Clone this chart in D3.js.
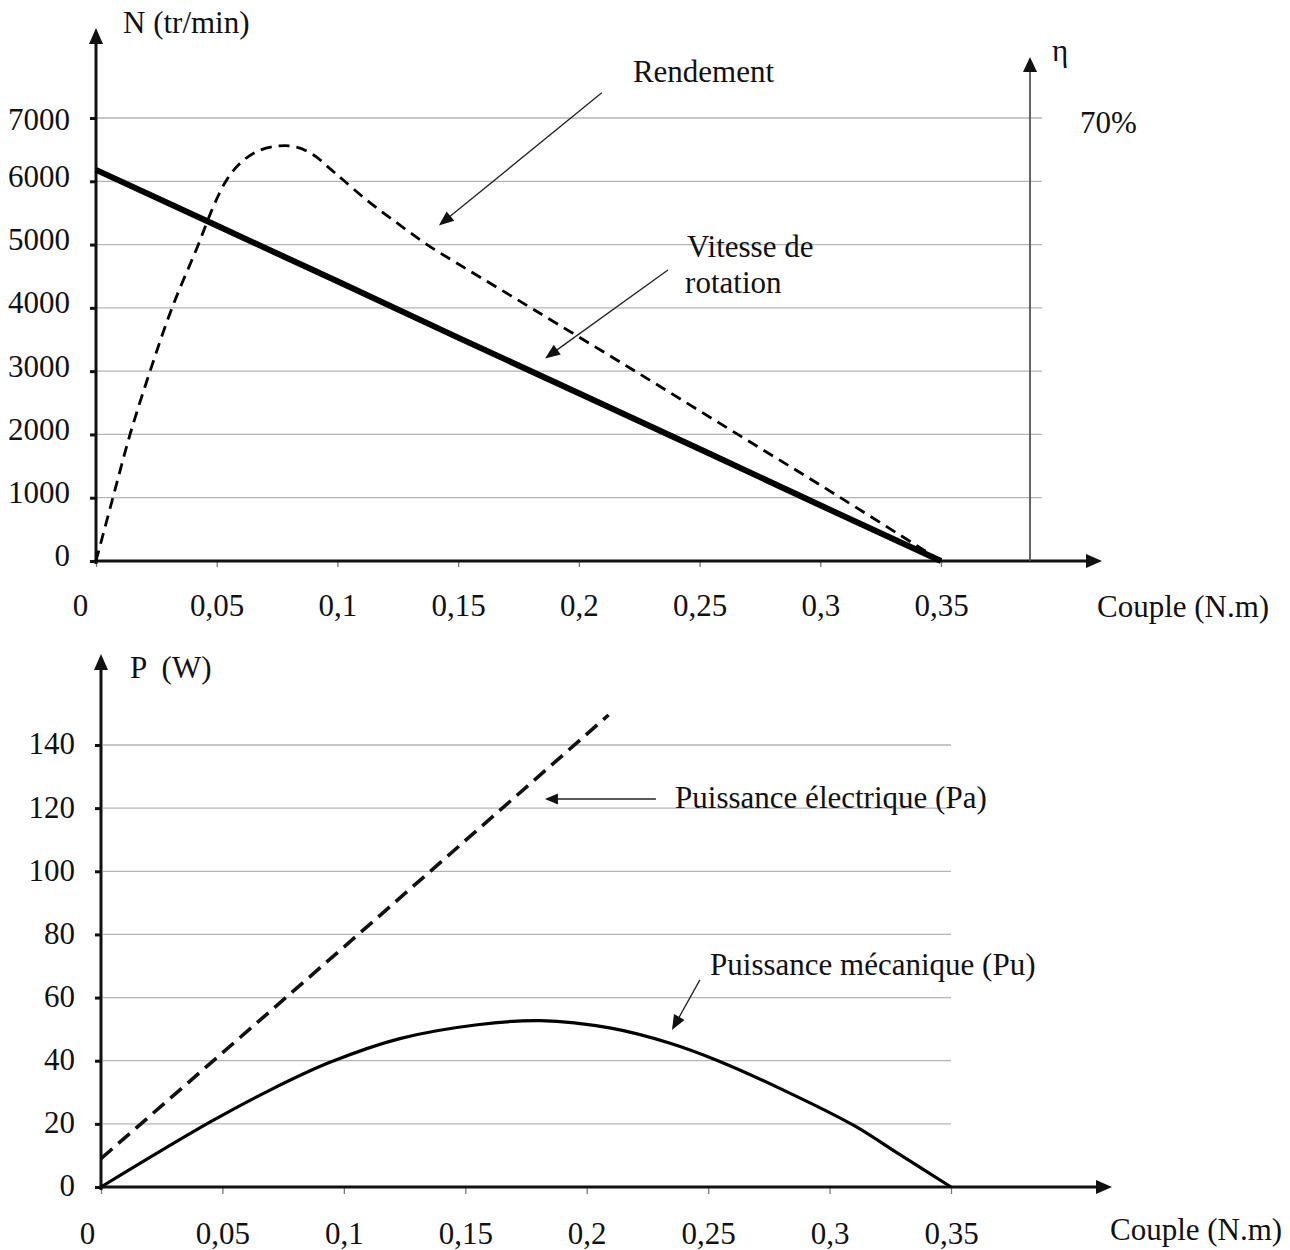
<!DOCTYPE html>
<html>
<head>
<meta charset="utf-8">
<script src="https://cdn.jsdelivr.net/npm/d3@7"></script>
<style>
  body { margin: 0; background: #fff; }
  svg text { font-family: "Liberation Serif", "Times New Roman", serif; font-size: 31px; fill: #111; }
</style>
</head>
<body>
<svg id="chart"></svg>
<script>
// axes
const torqueTicks = [0, 0.05, 0.1, 0.15, 0.2, 0.25, 0.3, 0.35];
const speedTicks = [0, 1000, 2000, 3000, 4000, 5000, 6000, 7000];
const powerTicks = [0, 20, 40, 60, 80, 100, 120, 140];

// vitesse de rotation N (tr/min)
const speedTorque = [0, 0.05, 0.1, 0.15, 0.2, 0.25, 0.3, 0.35];
const speedValues = [6180, 5300, 4420, 3530, 2650, 1770, 880, 0];

// rendement (%), read against the 70% mark of the right axis
const effTorque = [0, 0.007, 0.0141, 0.0224, 0.0315, 0.0424, 0.0486, 0.0541, 0.0596, 0.0666, 0.0762, 0.0831, 0.09, 0.0969, 0.1024, 0.1122, 0.123, 0.1371, 0.1537, 0.181, 0.222, 0.265, 0.308, 0.35];
const effValues = [0, 10, 20, 30, 40, 50, 56, 60.2, 62.8, 64.7, 65.6, 65.4, 64.2, 62, 60.2, 57.0, 53.9, 50, 46.1, 39.8, 30.3, 20.2, 10.1, 0];

// puissance électrique Pa (W)
const paTorque = [0, 0.1, 0.209];
const paValues = [9, 76, 149.5];

// puissance mécanique Pu (W)
const puTorque = [0, 0.045, 0.0696, 0.094, 0.123, 0.155, 0.181, 0.21, 0.234, 0.254, 0.281, 0.31, 0.328, 0.35];
const puValues = [0, 20.6, 30.7, 39.4, 47.0, 51.4, 52.7, 50.3, 45.6, 40, 30.7, 19.5, 10.7, 0];

const width = 1290;
const height = 1250;

const svg = d3.select("#chart")
  .attr("width", width)
  .attr("height", height);

const fmtTorque = d => String(d).replace(".", ",");

function arrowHead(g, tipX, tipY, angle, len, half, color) {
  // angle: direction the arrow points to (radians)
  const bx = tipX - len * Math.cos(angle);
  const by = tipY - len * Math.sin(angle);
  const nx = -Math.sin(angle) * half;
  const ny = Math.cos(angle) * half;
  g.append("path")
    .attr("d", `M${tipX},${tipY}L${bx + nx},${by + ny}L${bx - nx},${by - ny}Z`)
    .attr("fill", color || "#111");
}

function arrow(g, x1, y1, x2, y2, len, half, sw) {
  const a = Math.atan2(y2 - y1, x2 - x1);
  g.append("line")
    .attr("x1", x1).attr("y1", y1)
    .attr("x2", x2 - (len - 2) * Math.cos(a)).attr("y2", y2 - (len - 2) * Math.sin(a))
    .attr("stroke", "#222")
    .attr("stroke-width", sw);
  arrowHead(g, x2, y2, a, len, half);
}

/* ---------- top chart: N and rendement ---------- */
const topG = svg.append("g");

const xTop = d3.scaleLinear().domain([0, 0.35]).range([96, 941]);
const yTop = d3.scaleLinear().domain([0, 7000]).range([561, 118]);
const etaY = d3.scaleLinear().domain([0, 70]).range([561, 118]);
const etaAxisX = 1030;

topG.append("g")
  .selectAll("line")
  .data(speedTicks.filter(d => d > 0))
  .join("line")
  .attr("x1", xTop(0) + 1)
  .attr("x2", etaAxisX + 12)
  .attr("y1", d => yTop(d))
  .attr("y2", d => yTop(d))
  .attr("stroke", "#b5b5b5")
  .attr("stroke-width", 1.3);

topG.append("g")
  .attr("transform", `translate(${xTop(0)},0)`)
  .call(d3.axisLeft(yTop).tickValues(speedTicks).tickSize(6).tickPadding(20).tickFormat(d3.format("d")))
  .call(g => g.select(".domain").remove())
  .call(g => g.selectAll(".tick line").attr("stroke", "#111").attr("stroke-width", 3))
  .call(g => g.selectAll(".tick text").attr("y", d => d === 7000 ? 2 : -5));

topG.append("g")
  .attr("transform", `translate(0,${yTop(0)})`)
  .call(d3.axisBottom(xTop).tickValues(torqueTicks).tickSize(6).tickFormat(fmtTorque))
  .call(g => g.select(".domain").remove())
  .call(g => g.selectAll(".tick line").attr("stroke", "#777").attr("stroke-width", 1.3))
  .call(g => g.selectAll(".tick text").attr("y", 55).attr("dy", 0).attr("x", d => d === 0 ? -16 : 0));

// axis lines with arrows
topG.append("line")
  .attr("x1", xTop(0)).attr("y1", yTop(0) + 3)
  .attr("x2", xTop(0)).attr("y2", 42)
  .attr("stroke", "#111").attr("stroke-width", 3);
arrowHead(topG, xTop(0), 28, -Math.PI / 2, 16, 7);

topG.append("line")
  .attr("x1", xTop(0) - 2).attr("y1", yTop(0))
  .attr("x2", 1088).attr("y2", yTop(0))
  .attr("stroke", "#111").attr("stroke-width", 3);
arrowHead(topG, 1102, yTop(0), 0, 16, 7);

topG.append("line")
  .attr("x1", etaAxisX).attr("y1", yTop(0))
  .attr("x2", etaAxisX).attr("y2", 70)
  .attr("stroke", "#555").attr("stroke-width", 1.8);
arrowHead(topG, etaAxisX, 57, -Math.PI / 2, 15, 7);

topG.append("text").attr("x", xTop(0) + 27).attr("y", 33).text("N (tr/min)");
topG.append("text").attr("x", etaAxisX + 22).attr("y", 61).text("η");
topG.append("text").attr("x", etaAxisX + 50).attr("y", etaY(70) + 15).text("70%");
topG.append("text").attr("x", 1097).attr("y", 617).text("Couple (N.m)");

// curves
topG.append("path")
  .datum(effTorque.map((t, i) => [t, effValues[i]]))
  .attr("fill", "none")
  .attr("stroke", "#000")
  .attr("stroke-width", 2.8)
  .attr("stroke-dasharray", "11,7")
  .attr("d", d3.line().x(d => xTop(d[0])).y(d => etaY(d[1])).curve(d3.curveCatmullRom.alpha(0.5)));

topG.append("path")
  .datum(speedTorque.map((t, i) => [t, speedValues[i]]))
  .attr("fill", "none")
  .attr("stroke", "#000")
  .attr("stroke-width", 6)
  .attr("d", d3.line().x(d => xTop(d[0])).y(d => yTop(d[1])));

// annotations
topG.append("text").attr("x", xTop(0.2224)).attr("y", yTop(7568)).text("Rendement");
arrow(topG, xTop(0.2095), yTop(7400), xTop(0.142), yTop(5300), 15, 6, 1.3);

topG.append("text").attr("x", xTop(0.2448)).attr("y", yTop(4803)).text("Vitesse de");
topG.append("text").attr("x", xTop(0.2440)).attr("y", yTop(4234)).text("rotation");
arrow(topG, xTop(0.2369), yTop(4598), xTop(0.186), yTop(3200), 15, 6, 1.3);

/* ---------- bottom chart: Pa and Pu ---------- */
const botG = svg.append("g");

const xBot = d3.scaleLinear().domain([0, 0.35]).range([101, 951]);
const yBot = d3.scaleLinear().domain([0, 140]).range([1187, 745]);

botG.append("g")
  .selectAll("line")
  .data(powerTicks.filter(d => d > 0))
  .join("line")
  .attr("x1", xBot(0) + 2)
  .attr("x2", xBot(0.35))
  .attr("y1", d => yBot(d))
  .attr("y2", d => yBot(d))
  .attr("stroke", "#b5b5b5")
  .attr("stroke-width", 1.3);

botG.append("g")
  .attr("transform", `translate(${xBot(0)},0)`)
  .call(d3.axisLeft(yBot).tickValues(powerTicks).tickSize(6).tickPadding(20).tickFormat(d3.format("d")))
  .call(g => g.select(".domain").remove())
  .call(g => g.selectAll(".tick line").attr("stroke", "#111").attr("stroke-width", 3))
  .call(g => g.selectAll(".tick text").attr("y", -1));

botG.append("g")
  .attr("transform", `translate(0,${yBot(0)})`)
  .call(d3.axisBottom(xBot).tickValues(torqueTicks).tickSize(7).tickFormat(fmtTorque))
  .call(g => g.select(".domain").remove())
  .call(g => g.selectAll(".tick line").attr("stroke", "#777").attr("stroke-width", 1.3))
  .call(g => g.selectAll(".tick text").attr("y", 57).attr("dy", 0).attr("x", d => d === 0 ? -14 : 0));

botG.append("line")
  .attr("x1", xBot(0)).attr("y1", yBot(0) + 3)
  .attr("x2", xBot(0)).attr("y2", 668)
  .attr("stroke", "#111").attr("stroke-width", 3);
arrowHead(botG, xBot(0), 654, -Math.PI / 2, 16, 7);

botG.append("line")
  .attr("x1", xBot(0) - 2).attr("y1", yBot(0))
  .attr("x2", 1098).attr("y2", yBot(0))
  .attr("stroke", "#111").attr("stroke-width", 3);
arrowHead(botG, 1112, yBot(0), 0, 16, 7);

botG.append("text").attr("x", xBot(0) + 29).attr("y", 678).attr("xml:space", "preserve").text("P  (W)");
botG.append("text").attr("x", 1110).attr("y", 1240).text("Couple (N.m)");

botG.append("path")
  .datum(paTorque.map((t, i) => [t, paValues[i]]))
  .attr("fill", "none")
  .attr("stroke", "#111")
  .attr("stroke-width", 3.6)
  .attr("stroke-dasharray", "15,8")
  .attr("d", d3.line().x(d => xBot(d[0])).y(d => yBot(d[1])));

botG.append("path")
  .datum(puTorque.map((t, i) => [t, puValues[i]]))
  .attr("fill", "none")
  .attr("stroke", "#000")
  .attr("stroke-width", 3.2)
  .attr("d", d3.line().x(d => xBot(d[0])).y(d => yBot(d[1])).curve(d3.curveCatmullRom.alpha(0.5)));

botG.append("text").attr("x", xBot(0.2364)).attr("y", yBot(120)).text("Puissance électrique (Pa)");
arrow(botG, xBot(0.2285), yBot(122.9), xBot(0.1828), yBot(122.9), 13, 5.5, 1.3);

botG.append("text").attr("x", xBot(0.2508)).attr("y", yBot(67.2)).text("Puissance mécanique (Pu)");
arrow(botG, xBot(0.2466), yBot(65.6), xBot(0.2351), yBot(49.7), 15, 6, 1.3);
</script>
</body>
</html>
